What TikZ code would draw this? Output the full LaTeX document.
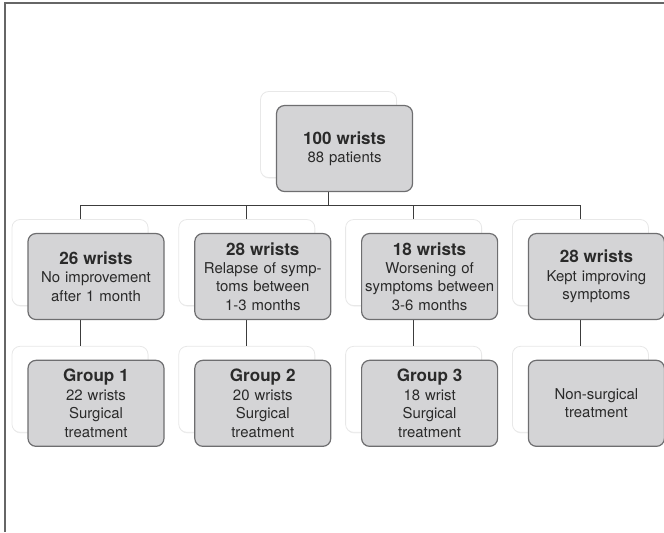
\documentclass[tikz,border=0pt]{standalone}
\usepackage{fontspec}
\setmainfont{TeX Gyre Heros}
\usetikzlibrary{positioning,shadows}
\usepackage{xcolor}
\definecolor{boxgray}{HTML}{D4D4D6}
\definecolor{boxedge}{HTML}{6E6E70}
\definecolor{linkgray}{HTML}{3C3C3C}
\definecolor{framegray}{HTML}{666666}
\definecolor{txtgray}{HTML}{2A2A2A}
\newcommand{\headline}[1]{{\fontsize{12.8}{15}\selectfont\bfseries #1}}

\begin{document}
\begin{tikzpicture}[node distance=22.5pt, auto]
\tikzset{
    backbox/.style={rectangle, rounded corners=6pt, draw=black!9, fill=white, line width=0.6pt, minimum width=102pt, minimum height=64.5pt, inner sep=0pt, drop shadow={opacity=0.12, shadow xshift=0.4pt, shadow yshift=-0.8pt}},
    mybox/.style={rectangle, rounded corners=6pt, draw=boxedge, fill=boxgray, line width=0.9pt, minimum width=102pt, minimum height=64.5pt, inner sep=1pt, text width=100pt, align=center, text=txtgray, font=\fontsize{11.2}{13.8}\selectfont},
    mylink/.style={draw=linkgray, line width=0.75pt}
}
\useasboundingbox (0,0) rectangle (498pt,-399pt);
\draw[framegray, line width=1.5pt] (3.75pt,-399pt) -- (3.75pt,-2.25pt) -- (498pt,-2.25pt);

% white boxes behind, the tree hangs on these
\node[backbox] (t0) at (246.4pt,-100.9pt) {};
\node[backbox] (a1) at (60pt,-196.9pt) {};
\node[backbox, right=of a1] (a2) {};
\node[backbox, right=of a2] (a3) {};
\node[backbox, right=of a3] (a4) {};
\node[backbox, below=30pt of a1] (b1) {};
\node[backbox, below=30pt of a2] (b2) {};
\node[backbox, below=30pt of a3] (b3) {};
\node[backbox, below=30pt of a4] (b4) {};

\draw[mylink] (a1.north) -- ++(0,10pt) coordinate (hub) -| (a4.north);
\draw[mylink] (t0.south) -- (t0.south |- hub);
\draw[mylink] (a2.north) -- (a2.north |- hub);
\draw[mylink] (a3.north) -- (a3.north |- hub);
\draw[mylink] (a1.south) -- (b1.north);
\draw[mylink] (a2.south) -- (b2.north);
\draw[mylink] (a3.south) -- (b3.north);
\draw[mylink] (a4.south) -- (b4.north);

% gray boxes, shifted down right of the white ones
\node[mybox] (wrists) at ([shift={(12pt,-10.5pt)}]t0.center) {\headline{100 wrists}\\88 patients};
\node[mybox] (noimprove) at ([shift={(12pt,-10.5pt)}]a1.center) {\headline{26 wrists}\\No improvement\\after 1 month};
\node[mybox] (relapse) at ([shift={(12pt,-10.5pt)}]a2.center) {\headline{28 wrists}\\Relapse of symp-\\toms between\\1-3 months};
\node[mybox] (worsen) at ([shift={(12pt,-10.5pt)}]a3.center) {\headline{18 wrists}\\Worsening of\\symptoms between\\3-6 months};
\node[mybox] (improving) at ([shift={(12pt,-10.5pt)}]a4.center) {\headline{28 wrists}\\Kept improving\\symptoms};
\node[mybox] (group1) at ([shift={(12pt,-10.5pt)}]b1.center) {\headline{Group 1}\\22 wrists\\Surgical\\treatment};
\node[mybox] (group2) at ([shift={(12pt,-10.5pt)}]b2.center) {\headline{Group 2}\\20 wrists\\Surgical\\treatment};
\node[mybox] (group3) at ([shift={(12pt,-10.5pt)}]b3.center) {\headline{Group 3}\\18 wrist\\Surgical\\treatment};
\node[mybox] (nonsurg) at ([shift={(12pt,-10.5pt)}]b4.center) {Non-surgical\\treatment};

\end{tikzpicture}
\end{document}
